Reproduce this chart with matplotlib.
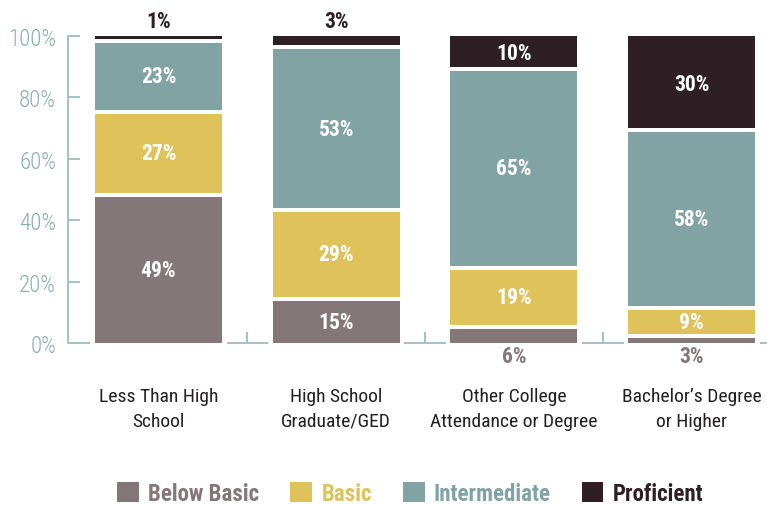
import numpy as np
import matplotlib.pyplot as plt
from matplotlib.patches import Patch

plt.rcParams['font.family'] = ['Roboto Condensed', 'Liberation Sans Narrow', 'DejaVu Sans']
plt.rcParams['font.stretch'] = 'condensed'

# Share of adults at each literacy level, by education
categories = ['Less Than High\nSchool', 'High School\nGraduate/GED',
              'Other College\nAttendance or Degree', 'Bachelor\u2019s Degree\nor Higher']
levels = ['Below Basic', 'Basic', 'Intermediate', 'Proficient']
below_basic = [49, 15, 6, 3]
basic = [27, 29, 19, 9]
intermediate = [23, 53, 65, 58]
proficient = [1, 3, 10, 30]
yticks = [0, 20, 40, 60, 80, 100]

colors = ['#837779', '#dfc25a', '#82a3a3', '#2e1f24']
axis_color = '#a3c2c2'
label_color = '#8aaeae'

series = [below_basic, basic, intermediate, proficient]
x = np.arange(len(categories))
width = 0.715
gap = 1.3  # white band under each segment boundary, in % units
val_size = 15.5

fig = plt.figure(figsize=(7.67, 5.06), dpi=100)
ax = fig.add_axes([0, 0.3202, 1, 0.6067])

bottom = np.zeros(len(categories))
for vals, col in zip(series, colors):
    vals = np.array(vals, dtype=float)
    ax.bar(x, vals, width, bottom=bottom, color=col, linewidth=0)
    for xi, b, v in zip(x, bottom, vals):
        if v >= 8:
            ax.text(xi, b + v / 2 - gap / 2, f'{int(v)}%', ha='center', va='center',
                    color='white', fontsize=val_size, fontweight='bold')
        elif b == 0:
            ax.text(xi, -4.4, f'{int(v)}%', ha='center', va='center',
                    color=col, fontsize=val_size, fontweight='bold', clip_on=False)
        else:
            ax.text(xi, b + v + 4.8, f'{int(v)}%', ha='center', va='center',
                    color=col, fontsize=val_size, fontweight='bold', clip_on=False)
    bottom += vals
    if bottom.min() < 100:
        # white separator cut into the top of the segment just drawn
        ax.bar(x, gap, width + 0.01, bottom=bottom - gap, color='white', linewidth=0)

# baseline pieces between the bars, each with a small center tick
for xi in list(x[:-1]) + [-1, x[-1]]:
    mid = xi + 0.5
    left = max(mid - 0.117, -0.509)
    ax.plot([left, mid + 0.117], [0, 0], color=axis_color, lw=1.4,
            solid_capstyle='butt', clip_on=False)
    if 0 <= xi < x[-1]:
        ax.plot([mid, mid], [0, 3.2], color=axis_color, lw=1.4, clip_on=False)

ax.set_xlim(-0.892, 3.424)
ax.set_ylim(0, 100)

for side in ['top', 'right', 'bottom']:
    ax.spines[side].set_visible(False)
ax.spines['left'].set_position(('data', -0.509))
ax.spines['left'].set_bounds(0, 100)
ax.spines['left'].set_color(axis_color)
ax.spines['left'].set_linewidth(1.4)

ax.set_yticks(yticks, [f'{t}%' for t in yticks])
ax.tick_params(axis='y', direction='in', length=8.6, width=1.4, color=axis_color,
               labelcolor=label_color, labelsize=16.5, pad=8.6)
for lbl in ax.get_yticklabels():
    lbl.set_fontweight('light')
ax.set_xticks(x, categories)
ax.tick_params(axis='x', length=0, pad=32, labelsize=14, labelcolor='#231f20')
for lbl in ax.get_xticklabels():
    lbl.set_linespacing(1.45)

handles = [Patch(facecolor=c, edgecolor='none') for c in colors]
fig.legend(handles, levels, loc='lower center', bbox_to_anchor=(0.535, -0.022),
           ncol=4, frameon=False, prop={'weight': 'bold', 'size': 16.5},
           handlelength=0.95, handleheight=0.95, handletextpad=0.4,
           columnspacing=1.35, borderpad=0.0, labelcolor=colors)

fig.savefig('out.png', dpi=100)
